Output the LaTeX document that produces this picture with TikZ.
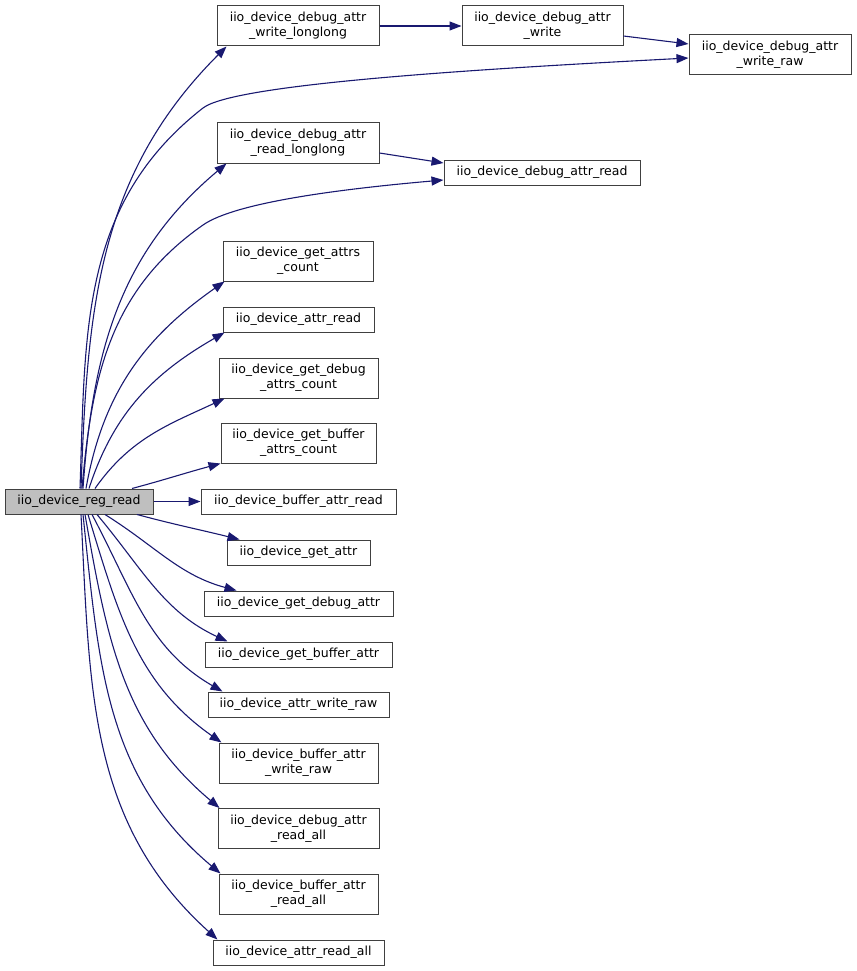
\documentclass[tikz,border=0pt]{standalone}
\usepackage{fontspec}
\setsansfont{DejaVu Sans}
\usetikzlibrary{arrows.meta}
\definecolor{edgecolor}{RGB}{25,25,112}
\definecolor{boxcolor}{RGB}{64,64,64}
\definecolor{rootcolor}{RGB}{191,191,191}
\begin{document}
\begin{tikzpicture}[x=1pt, y=1pt,
    every node/.style={font=\sffamily\fontsize{12.5}{15}\selectfont},
    fn/.style={draw=boxcolor, line width=1pt, fill=white, align=center, inner sep=0pt, minimum height=25pt},
    fnn/.style={fn, minimum height=40pt},
    call/.style={draw=edgecolor, line width=1.1pt, -{Triangle[length=12pt,width=9pt]}}]
    \useasboundingbox (0,0) rectangle (856,-971);
    % Root function
    \node[fn, fill=rootcolor, minimum width=148pt] (main) at (79,-501.5) {iio\_device\_reg\_read};
    % Debug attribute helpers (top right)
    \node[fnn, minimum width=162pt] (wll) at (298,-26) {iio\_device\_debug\_attr\\\_write\_longlong};
    \node[fnn, minimum width=161pt] (dw) at (542.5,-26) {iio\_device\_debug\_attr\\\_write};
    \node[fnn, minimum width=162pt] (dwr) at (770,-55) {iio\_device\_debug\_attr\\\_write\_raw};
    \node[fnn, minimum width=162pt] (rll) at (298,-143) {iio\_device\_debug\_attr\\\_read\_longlong};
    \node[fn, minimum width=196pt] (dr) at (542,-172.5) {iio\_device\_debug\_attr\_read};
    % Callees in one column
    \node[fnn, minimum width=150pt] (gac) at (298,-261) {iio\_device\_get\_attrs\\\_count};
    \node[fn, minimum width=151pt] (ar) at (298.5,-319.5) {iio\_device\_attr\_read};
    \node[fnn, minimum width=159pt] (gdac) at (298.5,-378) {iio\_device\_get\_debug\\\_attrs\_count};
    \node[fnn, minimum width=155pt] (gbac) at (298.5,-443) {iio\_device\_get\_buffer\\\_attrs\_count};
    \node[fn, minimum width=195pt] (bar) at (298.5,-501.5) {iio\_device\_buffer\_attr\_read};
    \node[fn, minimum width=143pt] (ga) at (298.5,-552.5) {iio\_device\_get\_attr};
    \node[fn, minimum width=189pt] (gda) at (298.5,-603.5) {iio\_device\_get\_debug\_attr};
    \node[fn, minimum width=187pt] (gba) at (298.5,-654.5) {iio\_device\_get\_buffer\_attr};
    \node[fn, minimum width=181pt] (awr) at (298.5,-704.5) {iio\_device\_attr\_write\_raw};
    \node[fnn, minimum width=159pt] (bawr) at (298.5,-763) {iio\_device\_buffer\_attr\\\_write\_raw};
    \node[fnn, minimum width=161pt] (dra) at (298.5,-828.5) {iio\_device\_debug\_attr\\\_read\_all};
    \node[fnn, minimum width=159pt] (bra) at (298.5,-894) {iio\_device\_buffer\_attr\\\_read\_all};
    \node[fn, minimum width=171pt] (ara) at (298.5,-952.5) {iio\_device\_attr\_read\_all};
    % Bend points of the two long calls
    \coordinate (bendw) at (203,-108);
    \coordinate (bendr) at (203,-225);
    % Calls going up from the root
    \foreach \n/\sx/\o/\ex/\i in {wll/2/88/10/225, rll/4/86/10/220, gac/7/80/2/215,
        ar/10/72/2/210, gdac/16/55/6/205, gbac/53/15/0/195} {
      \draw[call] ([xshift=\sx pt]main.north) to[out=\o,in=\i] ([xshift=\ex pt]\n.south west);
    }
    \draw[call] ([xshift=1pt]main.north) to[out=88,in=218] (bendw)
      .. controls +(38:40) and +(183:200) .. ([yshift=-3pt]dwr.west);
    \draw[call] ([xshift=3pt]main.north) to[out=85,in=215] (bendr)
      .. controls +(35:40) and +(185:100) .. ([yshift=-7.5pt]dr.west);
    % Straight calls
    \draw[call] (main.east) -- (bar.west);
    \draw[call] (wll.east) -- (dw.west);
    \draw[call] ([yshift=-10pt]dw.east) -- ([yshift=11pt]dwr.west);
    \draw[call] ([yshift=-10pt]rll.east) -- ([yshift=9.5pt]dr.west);
    % Calls going down from the root
    \foreach \n/\sx/\o/\ex/\i in {ga/58/-15/13/166, gda/26/-32/33/165, gba/18/-50/23/155,
        awr/13/-62/15/150, bawr/9/-73/3/145, dra/6/-80/2/140, bra/4/-84/2/140, ara/2/-87/5/138} {
      \draw[call] ([xshift=\sx pt]main.south) to[out=\o,in=\i] ([xshift=\ex pt]\n.north west);
    }
\end{tikzpicture}
\end{document}
